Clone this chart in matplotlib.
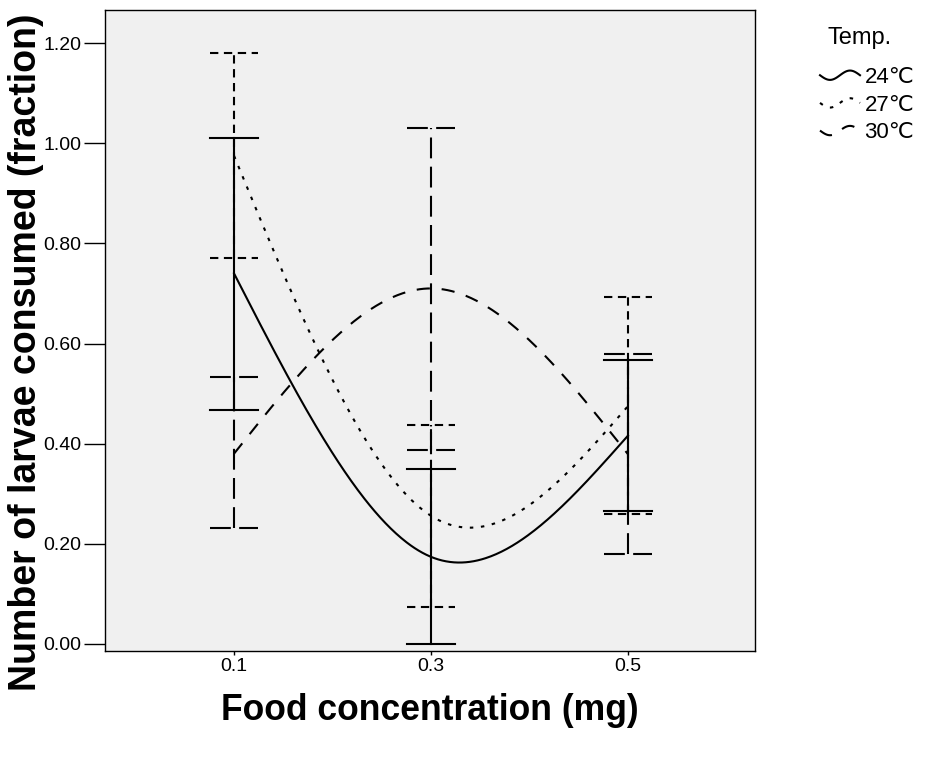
import numpy as np
import matplotlib
matplotlib.use("Agg")
import matplotlib.pyplot as plt
from matplotlib.lines import Line2D
from matplotlib.legend_handler import HandlerBase

plt.rcParams['font.family'] = ['Liberation Sans', 'DejaVu Sans']
plt.rcParams['lines.scale_dashes'] = False

# datos
concentraciones = ["0.1", "0.3", "0.5"]
temperaturas = ["24\u2103", "27\u2103", "30\u2103"]
medias = {
    "24\u2103": [0.740, 0.174, 0.416],
    "27\u2103": [0.975, 0.256, 0.475],
    "30\u2103": [0.380, 0.710, 0.379],
}
barra_inf = {
    "24\u2103": [0.467, 0.000, 0.265],
    "27\u2103": [0.770, 0.074, 0.260],
    "30\u2103": [0.232, 0.387, 0.179],
}
barra_sup = {
    "24\u2103": [1.010, 0.349, 0.568],
    "27\u2103": [1.180, 0.438, 0.692],
    "30\u2103": [0.533, 1.031, 0.579],
}
estilo_curva = {
    "24\u2103": "-",
    "27\u2103": (0, (2.5, 5.5)),
    "30\u2103": (0, (9.5, 8.5)),
}
estilo_barra = {
    "24\u2103": "-",
    "27\u2103": (0, (6, 4)),
    "30\u2103": (0, (15, 6)),
}


def spline_natural(x, y, xs):
    '''Spline cubico natural, x equiespaciado'''
    n = len(x)
    h = x[1] - x[0]
    A = np.zeros((n, n))
    r = np.zeros(n)
    A[0, 0] = A[-1, -1] = 1.0
    for i in range(1, n - 1):
        A[i, i - 1:i + 2] = [h, 4 * h, h]
        r[i] = 6 * (y[i - 1] - 2 * y[i] + y[i + 1]) / h
    M = np.linalg.solve(A, r)
    out = np.empty_like(xs)
    for k, t in enumerate(xs):
        i = min(int((t - x[0]) // h), n - 2)
        a, b = x[i + 1] - t, t - x[i]
        out[k] = (M[i] * a ** 3 + M[i + 1] * b ** 3) / (6 * h) \
            + (y[i] - M[i] * h * h / 6) * a / h + (y[i + 1] - M[i + 1] * h * h / 6) * b / h
    return out


class Onda(HandlerBase):
    # manija de leyenda ondulada, como en SPSS
    def create_artists(self, legend, orig_handle, xdescent, ydescent, width, height, fontsize, trans):
        u = np.linspace(0, 1, 60)
        linea = Line2D([], [])
        linea.update_from(orig_handle)
        linea.set_data(-xdescent + u * width, -ydescent + height / 2 - 0.3 * height * np.sin(2 * np.pi * u))
        linea.set_transform(trans)
        return [linea]


fig = plt.figure(figsize=(9.3, 7.58), dpi=100)
ax = fig.add_axes([105 / 930, 1 - 651 / 758, 650 / 930, 641 / 758])
ax.set_facecolor("#f0f0f0")

pos = np.arange(len(concentraciones), dtype=float)
xs = np.linspace(pos[0], pos[-1], 300)
for temp in temperaturas:
    ax.plot(xs, spline_natural(pos, np.array(medias[temp]), xs), color="black",
            linewidth=1.5, linestyle=estilo_curva[temp])
    ls = estilo_barra[temp]
    for p, lo, hi in zip(pos, barra_inf[temp], barra_sup[temp]):
        ax.plot([p, p], [lo, hi], color="black", linewidth=1.5, linestyle=ls)
        for v in (lo, hi):
            ax.plot([p - 0.12, p + 0.12], [v, v], color="black", linewidth=1.5, linestyle=ls)

ax.set_xlim(-0.655, 2.645)
ax.set_ylim(-0.014, 1.266)
ax.set_xticks(pos)
ax.set_xticklabels(concentraciones)
ax.set_yticks(np.arange(0, 1.21, 0.2))
ax.set_yticklabels(["%.2f" % v for v in np.arange(0, 1.21, 0.2)])
ax.tick_params(axis="both", labelsize=14, width=1, direction="out", pad=2)
ax.tick_params(axis="y", length=15)
ax.tick_params(axis="x", length=3)
for s in ax.spines.values():
    s.set_linewidth(1)

ax.set_xlabel("Food concentration (mg)", fontsize=25.6, fontweight="bold")
ax.xaxis.set_label_coords(0.5, -(711 - 651) / 641, transform=ax.transAxes)
ax.xaxis.label.set_va("center")
ax.set_ylabel("Number of larvae consumed (fraction)", fontsize=27, fontweight="bold")
ax.yaxis.set_label_coords(-(105 - 26) / 650, (651 - 352) / 641, transform=ax.transAxes)
ax.yaxis.label.set_va("center")

fig.text(860 / 930, 1 - 38 / 758, "Temp.", fontsize=17, ha="center", va="center")
manijas = [Line2D([], [], color="black", linewidth=1.5, linestyle=estilo_curva[t]) for t in temperaturas]
fig.legend(manijas, temperaturas, loc="upper left", bbox_to_anchor=(800 / 930, 1 - 47 / 758),
           frameon=False, fontsize=16, handlelength=1.8, handletextpad=0.2,
           labelspacing=0.3, handler_map={Line2D: Onda()})

fig.savefig("out.png", dpi=100)
